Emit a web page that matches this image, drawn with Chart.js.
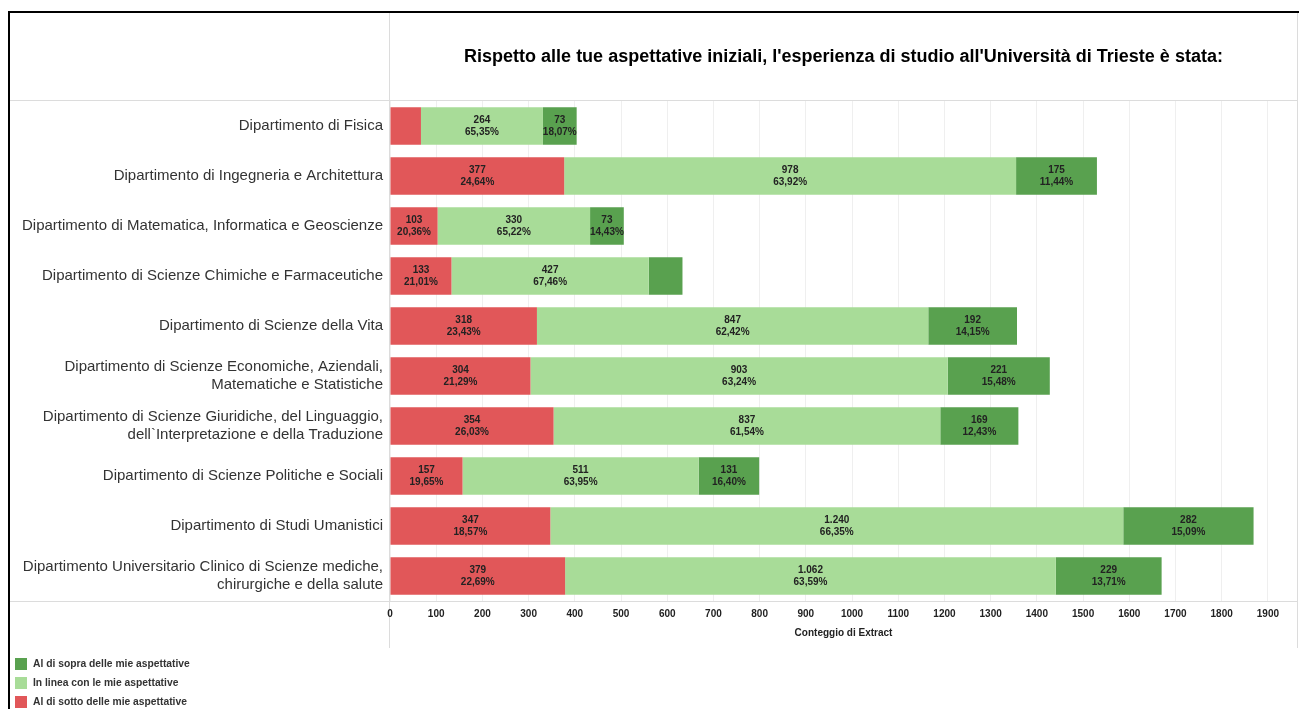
<!DOCTYPE html>
<html>
<head>
<meta charset="utf-8">
<script src="https://cdn.jsdelivr.net/npm/chart.js@4/dist/chart.umd.min.js"></script>
<style>
  html, body { margin: 0; padding: 0; background: #fff; }
  body { width: 1299px; height: 709px; position: relative; overflow: hidden; font-family: Arial, "Liberation Sans", sans-serif; }
  .ln { position: absolute; background: #dcdcdc; }
  #frameL { position: absolute; left: 8px; top: 11px; width: 2px; height: 698px; background: #000; }
  #frameT { position: absolute; left: 8px; top: 11px; width: 1291px; height: 2px; background: #000; }
  #chart { position: absolute; left: 0; top: 0; }
  .leg { position: absolute; left: 15px; font-size: 10.3px; font-weight: bold; color: #333; line-height: 12px; }
  .leg span { display: inline-block; width: 12px; height: 12px; vertical-align: top; margin-right: 6px; }
</style>
</head>
<body>
<div id="frameL"></div>
<div id="frameT"></div>
<div class="ln" style="left:389px; top:13px; width:1px; height:635px;"></div>
<div class="ln" style="left:1297px; top:13px; width:1px; height:635px;"></div>
<div class="ln" style="left:10px; top:100px; width:1288px; height:1px;"></div>
<div class="ln" style="left:10px; top:601px; width:1288px; height:1px;"></div>
<canvas id="chart" width="1299" height="709"></canvas>
<div id="legend"></div>
<script>
const TITLE = "Rispetto alle tue aspettative iniziali, l'esperienza di studio all'Università di Trieste è stata:";
const AXIS_TITLE = "Conteggio di Extract";
const categories = [
  "Dipartimento di Fisica",
  "Dipartimento di Ingegneria e Architettura",
  "Dipartimento di Matematica, Informatica e Geoscienze",
  "Dipartimento di Scienze Chimiche e Farmaceutiche",
  "Dipartimento di Scienze della Vita",
  ["Dipartimento di Scienze Economiche, Aziendali,", "Matematiche e Statistiche"],
  ["Dipartimento di Scienze Giuridiche, del Linguaggio,", "dell`Interpretazione e della Traduzione"],
  "Dipartimento di Scienze Politiche e Sociali",
  "Dipartimento di Studi Umanistici",
  ["Dipartimento Universitario Clinico di Scienze mediche,", "chirurgiche e della salute"]
];
const seriesNames = ["Al di sotto delle mie aspettative", "In linea con le mie aspettative", "Al di sopra delle mie aspettative"];
const sotto = [67, 377, 103, 133, 318, 304, 354, 157, 347, 379];
const inLinea = [264, 978, 330, 427, 847, 903, 837, 511, 1240, 1062];
const sopra = [73, 175, 73, 73, 192, 221, 169, 131, 282, 229];
const xTicks = [0,100,200,300,400,500,600,700,800,900,1000,1100,1200,1300,1400,1500,1600,1700,1800,1900];
const xMax = 1963;
const hiddenLabels = [[0, 0], [2, 3]]; // [seriesIndex, categoryIndex]

const colors = ["#e15759", "#a8dc98", "#59a14f"];
const seriesData = [sotto, inLinea, sopra];
const totals = categories.map((c, i) => sotto[i] + inLinea[i] + sopra[i]);

function fmtInt(n) { return String(n).replace(/\B(?=(\d{3})+(?!\d))/g, "."); }
function fmtPct(v) { return v.toFixed(2).replace(".", ",") + "%"; }

const FONT = "Arial, 'Liberation Sans', sans-serif";

const decoPlugin = {
  id: 'deco',
  afterDatasetsDraw(chart) {
    const ctx = chart.ctx;
    ctx.save();
    ctx.fillStyle = "#222";
    ctx.font = "bold 10px " + FONT;
    ctx.textAlign = "center";
    ctx.textBaseline = "middle";
    chart.data.datasets.forEach((ds, di) => {
      const meta = chart.getDatasetMeta(di);
      meta.data.forEach((bar, ci) => {
        if (hiddenLabels.some(h => h[0] === di && h[1] === ci)) return;
        const v = ds.data[ci];
        const cx = (bar.x + bar.base) / 2;
        const cy = bar.y;
        ctx.fillText(fmtInt(v), cx, cy - 6);
        ctx.fillText(fmtPct(v / totals[ci] * 100), cx, cy + 6);
      });
    });
    ctx.restore();
  },
  afterDraw(chart) {
    const ctx = chart.ctx;
    const a = chart.chartArea;
    ctx.save();
    ctx.fillStyle = "#000";
    ctx.font = "bold 18px " + FONT;
    ctx.textAlign = "center";
    ctx.textBaseline = "middle";
    ctx.fillText(TITLE, (a.left + a.right) / 2, 57);
    ctx.restore();
  }
};

new Chart(document.getElementById("chart"), {
  type: "bar",
  data: {
    labels: categories,
    datasets: seriesData.map((d, i) => ({
      label: seriesNames[i],
      data: d,
      backgroundColor: colors[i],
      borderWidth: 0,
      categoryPercentage: 1,
      barPercentage: 0.75
    }))
  },
  options: {
    indexAxis: "y",
    responsive: false,
    animation: false,
    layout: { padding: { left: 0, top: 101, right: 2, bottom: 63 } },
    plugins: { legend: { display: false }, tooltip: { enabled: false }, title: { display: false } },
    scales: {
      x: {
        stacked: true,
        min: 0,
        max: xMax,
        afterBuildTicks(scale) { scale.ticks = xTicks.map(v => ({ value: v })); },
        afterFit(scale) { scale.height = 45; },
        ticks: { padding: 7, color: "#222", font: { family: FONT, size: 10, weight: "bold" }, maxRotation: 0,
                 callback: (v) => String(v) },
        grid: { color: "#efefef", drawTicks: false },
        border: { display: false },
        title: { display: true, text: AXIS_TITLE, color: "#222", font: { family: FONT, size: 10, weight: "bold" }, padding: { top: 4, bottom: 7 } }
      },
      y: {
        stacked: true,
        afterFit(scale) { scale.width = 390; },
        ticks: { padding: 7, color: "#333", font: { family: FONT, size: 15, lineHeight: 1.2 } },
        grid: { display: false, drawTicks: false },
        border: { display: false }
      }
    }
  },
  plugins: [decoPlugin]
});

// Legend (HTML, top-to-bottom order as in reference)
const legend = document.getElementById("legend");
[2, 1, 0].forEach((si, k) => {
  const d = document.createElement("div");
  d.className = "leg";
  d.style.top = (658 + k * 19) + "px";
  d.innerHTML = '<span style="background:' + colors[si] + '"></span>' + seriesNames[si];
  legend.appendChild(d);
});
</script>
</body>
</html>
